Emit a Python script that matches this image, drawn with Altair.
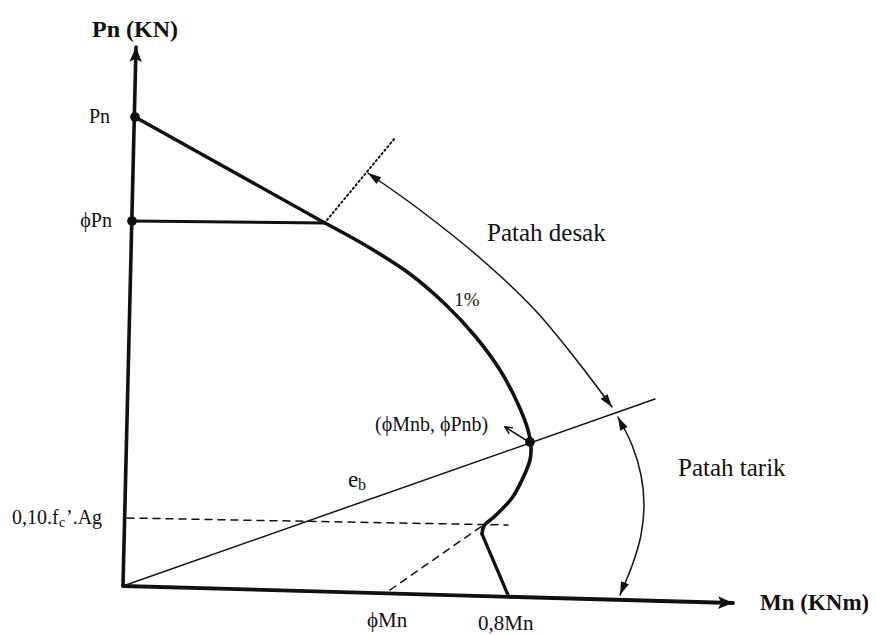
import math
import altair as alt
import pandas as pd

INK = "#111111"
SERIF = "Liberation Serif"

# ---- diagram data (Mn to the right, Pn upward; origin at the axes' corner) ----
axis_y_mn = [0, 13]
axis_y_pn = [0, 539]
axis_x_mn = [0, 610]
axis_x_pn = [0, -17]

# interaction curve: straight top part, curved body, straight foot
curve_top_mn = [12, 202]
curve_top_pn = [469, 363]
curve_mid_mn = [202, 247, 287, 322, 352, 377, 395, 405, 408, 407, 399, 389, 372, 361, 359]
curve_mid_pn = [363, 338, 312, 282, 250, 216, 182, 156, 140, 126, 106, 88, 70, 60, 52]
curve_foot_mn = [359, 385]
curve_foot_pn = [52, -9]

phi_pn_mn = [9, 202]
phi_pn_pn = [365, 363]
eb_mn = [0, 532]
eb_pn = [0, 187]
dash_h_mn = [4, 385]
dash_h_pn = [68, 61]
dash_d_mn = [267, 359]
dash_d_pn = [-4, 60]
dotted_mn = [204, 272]
dotted_pn = [366, 448]

arc_desak_mn = [245, 297, 357, 412, 455, 489]
arc_desak_pn = [413, 376, 328, 276, 224, 179]
arc_tarik_mn = [495, 509, 518, 521, 518, 510, 497]
arc_tarik_pn = [169, 141, 111, 81, 51, 23, -9]
pointer_mn = [406, 382]
pointer_pn = [144, 159]

dot_mn = [12, 9, 407]
dot_pn = [469, 365, 144]

# ---- scales (plot area covers the whole picture) ----
xs = alt.Scale(domain=[-115, 745], nice=False, zero=False)
ys = alt.Scale(domain=[-49, 578], nice=False, zero=False)


def enc(ch):
    return ch.encode(
        x=alt.X("mn:Q", scale=xs, axis=None),
        y=alt.Y("pn:Q", scale=ys, axis=None),
    )


def line(mn, pn, width, dash=None, interp="linear"):
    df = pd.DataFrame({"mn": mn, "pn": pn, "i": list(range(len(mn)))})
    kw = dict(color=INK, strokeWidth=width, interpolate=interp, strokeCap="round", clip=False)
    if dash:
        kw["strokeDash"] = dash
    return enc(alt.Chart(df).mark_line(**kw)).encode(order="i:Q")


def heads(items, path, size, filled=True, sw=1.0):
    rows = []
    for (tm, tp, fm, fp) in items:
        ang = math.degrees(math.atan2(tm - fm, tp - fp)) % 360
        rows.append({"mn": tm, "pn": tp, "angle": ang})
    df = pd.DataFrame(rows)
    return enc(alt.Chart(df).mark_point(
        shape=path, size=size, filled=filled, color=INK, opacity=1,
        strokeWidth=sw, clip=False)).encode(
        angle=alt.Angle("angle:Q", scale=alt.Scale(domain=[0, 360], range=[0, 360]))
    )


def text(label, mn, pn, size, align="left", bold=False, baseline="middle"):
    df = pd.DataFrame({"mn": [mn], "pn": [pn], "t": [label]})
    return enc(alt.Chart(df).mark_text(
        align=align, baseline=baseline, font=SERIF, fontSize=size,
        fontWeight="bold" if bold else "normal", color=INK)).encode(text="t:N")


layers = [
    line(axis_y_mn, axis_y_pn, 3.6),
    line(axis_x_mn, axis_x_pn, 3.8),
    line(eb_mn, eb_pn, 1.5),
    line(dash_h_mn, dash_h_pn, 1.5, dash=[7, 6]),
    line(dash_d_mn, dash_d_pn, 1.5, dash=[7, 6]),
    line(dotted_mn, dotted_pn, 2.0, dash=[1.5, 3]),
    line(phi_pn_mn, phi_pn_pn, 3.0),
    line(curve_top_mn, curve_top_pn, 3.4),
    line(curve_mid_mn, curve_mid_pn, 3.6, interp="catmull-rom"),
    line(curve_foot_mn, curve_foot_pn, 3.2),
    line(arc_desak_mn, arc_desak_pn, 1.5, interp="catmull-rom"),
    line(arc_tarik_mn, arc_tarik_pn, 1.5, interp="catmull-rom"),
    line(pointer_mn, pointer_pn, 1.5),
    # arrow heads
    heads([(axis_y_mn[1], axis_y_pn[1], axis_y_mn[0], axis_y_pn[0]),
           (axis_x_mn[1], axis_x_pn[1], axis_x_mn[0], axis_x_pn[0])],
          "M0,0L0.42,1L0,0.78L-0.42,1Z", 900),
    heads([(arc_desak_mn[0], arc_desak_pn[0], arc_desak_mn[1], arc_desak_pn[1]),
           (arc_desak_mn[-1], arc_desak_pn[-1], arc_desak_mn[-2], arc_desak_pn[-2]),
           (arc_tarik_mn[0], arc_tarik_pn[0], arc_tarik_mn[1], arc_tarik_pn[1]),
           (arc_tarik_mn[-1], arc_tarik_pn[-1], arc_tarik_mn[-2], arc_tarik_pn[-2])],
          "M0,0L0.32,1L-0.32,1Z", 700),
    heads([(pointer_mn[1], pointer_pn[1], pointer_mn[0], pointer_pn[0])],
          "M-0.5,1L0,0L0.5,1", 200, filled=False, sw=1.5),
    # dots
    enc(alt.Chart(pd.DataFrame({"mn": dot_mn, "pn": dot_pn})).mark_circle(
        size=95, color=INK, opacity=1)),
    # texts
    text("Pn (KN)", 12, 556, 24, align="center", bold=True),
    text("Mn (KNm)", 637, -17, 23, bold=True),
    text("Pn", -13, 469, 20, align="right"),
    text("ϕPn", -11, 365, 20, align="right"),
    text("0,10.f", -111, 68, 20),
    text("c", -64, 63, 14),
    text("’.Ag", -57, 68, 20),
    text("e", 230, 106, 23, align="center"),
    text("b", 239, 101, 16, align="center"),
    text("1%", 344, 286, 19, align="center"),
    text("Patah desak", 364, 353, 25),
    text("(ϕMnb, ϕPnb)", 252, 161, 20),
    text("Patah tarik", 555, 118, 25),
    text("ϕMn", 244, -35, 21),
    text("0,8Mn", 355, -38, 21),
]

chart = alt.layer(*layers).properties(
    width=860, height=627, padding=0, background="white",
    autosize=alt.AutoSizeParams(type="none"),
).configure_view(stroke=None)

chart.save("out.html", embed_options={"renderer": "svg", "actions": False})
